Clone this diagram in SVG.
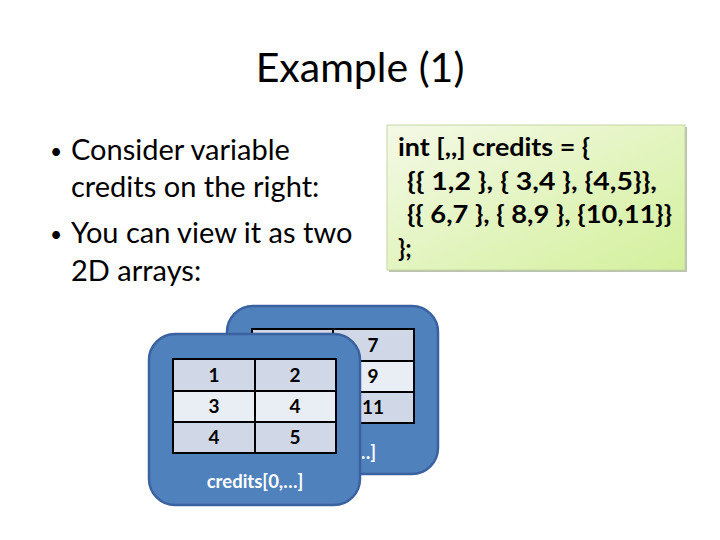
<svg xmlns="http://www.w3.org/2000/svg" width="720" height="540" viewBox="0 0 720 540">
<defs>
<linearGradient id="g" x1="0" y1="0" x2="1" y2="1">
<stop offset="0" stop-color="#f4f9e6"/>
<stop offset="1" stop-color="#d3f09c"/>
</linearGradient>
<style>
.t{font-family:Lato,"Liberation Sans",sans-serif;fill:#000}
.b{font-family:Lato,"Liberation Sans",sans-serif;font-weight:bold}
.panel{fill:#4f81bd;stroke:#3a62a0;stroke-width:2.5}
.dk{fill:#d0d8e8;stroke:#000;stroke-width:2}
.lt{fill:#e9edf4;stroke:#000;stroke-width:2}
.cell{font-family:Lato,"Liberation Sans",sans-serif;font-weight:bold;font-size:19px;text-anchor:middle}
.lab{font-family:Lato,"Liberation Sans",sans-serif;font-weight:bold;font-size:18.5px;fill:#fff;text-anchor:middle}
</style>
</defs>
<rect width="720" height="540" fill="#fff"/>
<g id="title"><text class="t" x="360" y="82" font-size="41" text-anchor="middle">Example (1)</text></g>
<g id="bullets" class="t" font-size="29">
<text x="50" y="159" font-size="21">•</text>
<text x="71" y="160">Consider variable</text>
<text x="71" y="197">credits on the right:</text>
<text x="50" y="242" font-size="21">•</text>
<text x="71" y="243">You can view it as two</text>
<text x="71" y="281">2D arrays:</text>
</g>
<g id="code">
<rect x="389" y="127" width="298" height="145" fill="#8a9a7a" opacity="0.6"/>
<rect x="387" y="125" width="298" height="145" fill="url(#g)" stroke="#c6d6a6" stroke-width="1"/>
<g class="b" font-size="24">
<text x="398" y="156" textLength="192" lengthAdjust="spacingAndGlyphs">int [,,] credits = {</text>
<text x="407" y="190" textLength="250" lengthAdjust="spacingAndGlyphs">{{ 1,2 }, { 3,4 }, {4,5}},</text>
<text x="407" y="223" textLength="265" lengthAdjust="spacingAndGlyphs">{{ 6,7 }, { 8,9 }, {10,11}}</text>
<text x="398" y="257">};</text>
</g>
</g>
<g id="back">
<rect class="panel" x="227" y="306" width="211" height="168" rx="26"/>
<rect class="dk" x="252" y="329" width="81" height="32"/>
<rect class="dk" x="333" y="329" width="81" height="32"/>
<rect class="lt" x="252" y="361" width="81" height="31"/>
<rect class="lt" x="333" y="361" width="81" height="31"/>
<rect class="dk" x="252" y="392" width="81" height="31"/>
<rect class="dk" x="333" y="392" width="81" height="31"/>
<text class="cell" x="373" y="352">7</text>
<text class="cell" x="373" y="383">9</text>
<text class="cell" x="373" y="414">11</text>
<text class="lab" x="366" y="459" text-anchor="start">…]</text>
</g>
<g id="front">
<rect class="panel" x="149" y="334" width="211" height="171" rx="26"/>
<rect class="dk" x="173" y="359" width="82" height="32"/>
<rect class="dk" x="255" y="359" width="81" height="32"/>
<rect class="lt" x="173" y="391" width="82" height="31"/>
<rect class="lt" x="255" y="391" width="81" height="31"/>
<rect class="dk" x="173" y="422" width="82" height="31"/>
<rect class="dk" x="255" y="422" width="81" height="31"/>
<text class="cell" x="214" y="382">1</text>
<text class="cell" x="295" y="382">2</text>
<text class="cell" x="214" y="413">3</text>
<text class="cell" x="295" y="413">4</text>
<text class="cell" x="214" y="444">4</text>
<text class="cell" x="295" y="444">5</text>
<text class="lab" x="255" y="488">credits[0,…]</text>
</g>
</svg>
